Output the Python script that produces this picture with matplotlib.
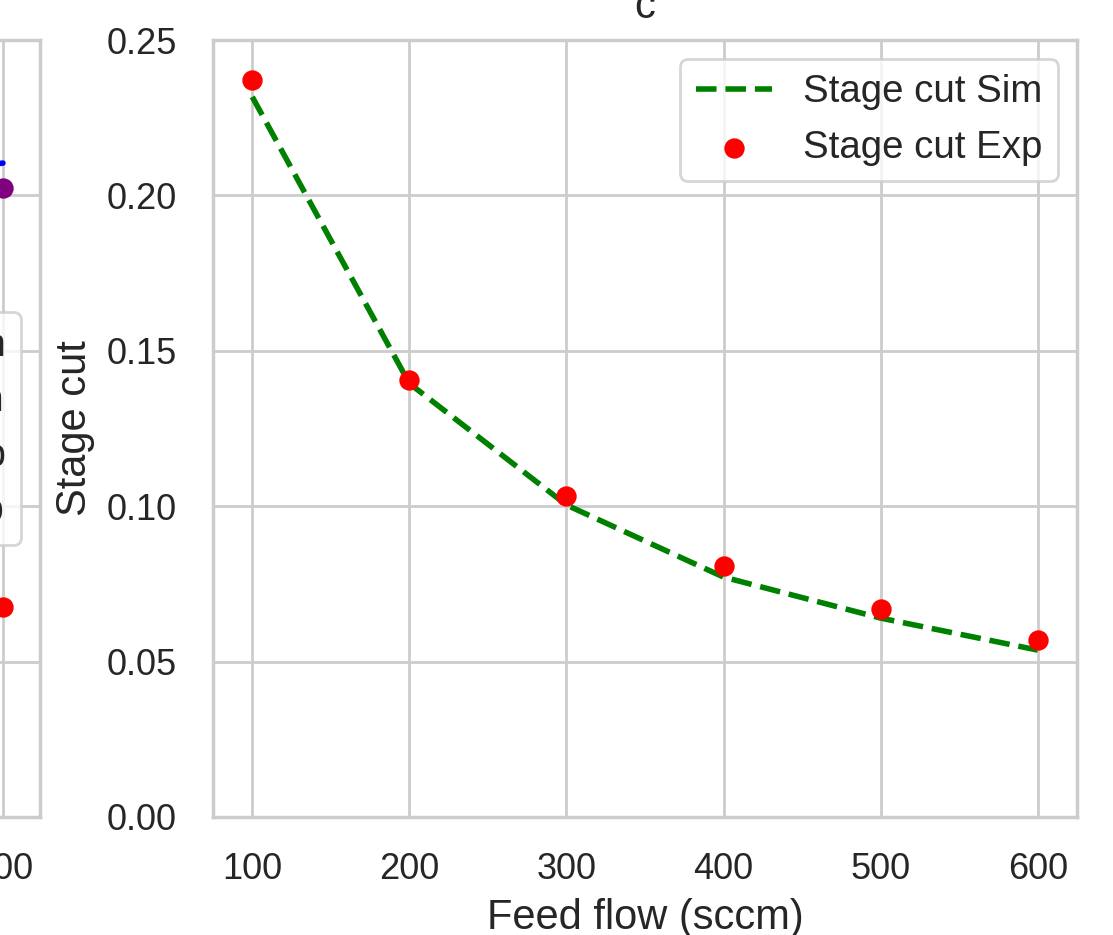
import matplotlib
matplotlib.use("Agg")
import matplotlib.pyplot as plt
import seaborn as sns

sns.set_theme(style="whitegrid", context="notebook")
plt.rcParams['font.family'] = ['Liberation Sans', 'DejaVu Sans']
plt.rcParams['xtick.labelsize'] = 13
plt.rcParams['ytick.labelsize'] = 13
plt.rcParams['axes.labelsize'] = 15
plt.rcParams['axes.titlesize'] = 15
plt.rcParams['legend.fontsize'] = 13.8
plt.rcParams['xtick.major.pad'] = 6.5
plt.rcParams['ytick.major.pad'] = 7

# Right panel (c) data
feed_flow = [100, 200, 300, 400, 500, 600]
stage_cut_sim = [0.2317, 0.1395, 0.1004, 0.0772, 0.0640, 0.0537]
stage_cut_exp = [0.2371, 0.1406, 0.1033, 0.0808, 0.0669, 0.0570]

# Left panel (only its right edge visible)
left_flow = [100, 200, 300, 400, 500, 600]
left_sim_a = [0.150, 0.172, 0.186, 0.197, 0.205, 0.2104]
left_sim_b = [0.150, 0.118, 0.098, 0.085, 0.075, 0.0676]
left_exp_a = [0.148, 0.170, 0.185, 0.195, 0.200, 0.2024]
left_exp_b = [0.152, 0.120, 0.100, 0.087, 0.076, 0.0676]

yticks = [0.00, 0.05, 0.10, 0.15, 0.20, 0.25]
xticks = [100, 200, 300, 400, 500, 600]

W, H = 1113, 935
dpi = 200
fig = plt.figure(figsize=(W / dpi, H / dpi), dpi=dpi)

bottom = (H - 817) / H
height = (817 - 40) / H

# left (cropped) axes
lw = 814 / W
ax0 = fig.add_axes([40 / W - lw, bottom, lw, height])
ax0.plot(left_flow, left_sim_a, color='blue', linewidth=2, label='O2 purity Sim')
ax0.plot(left_flow, left_sim_b, color='green', linestyle='--', linewidth=2, label='N2 purity Sim')
ax0.scatter(left_flow, left_exp_a, color='purple', s=40, label='O2 purity Exp', zorder=3)
ax0.scatter(left_flow, left_exp_b, color='red', s=40, label='N2 purity Exp', zorder=3)
ax0.set_xlim(75, 625)
ax0.set_ylim(0, 0.25)
ax0.set_xticks(xticks)
ax0.set_yticks(yticks)
ax0.legend(loc='center right')

# right axes
ax = fig.add_axes([213 / W, bottom, (1077 - 213) / W, height])
ax.plot(feed_flow, stage_cut_sim, color='green', linestyle='--', linewidth=2, label='Stage cut Sim')
ax.scatter(feed_flow, stage_cut_exp, color='red', s=40, label='Stage cut Exp', zorder=3)
ax.set_xlim(75, 625)
ax.set_ylim(0, 0.25)
ax.set_xticks(xticks)
ax.set_yticks(yticks)
ax.set_xlabel('Feed flow (sccm)')
ax.set_ylabel('Stage cut')
ax.set_title('c', pad=8)
ax.legend(loc='upper right')

fig.savefig('out.png', dpi=dpi)
